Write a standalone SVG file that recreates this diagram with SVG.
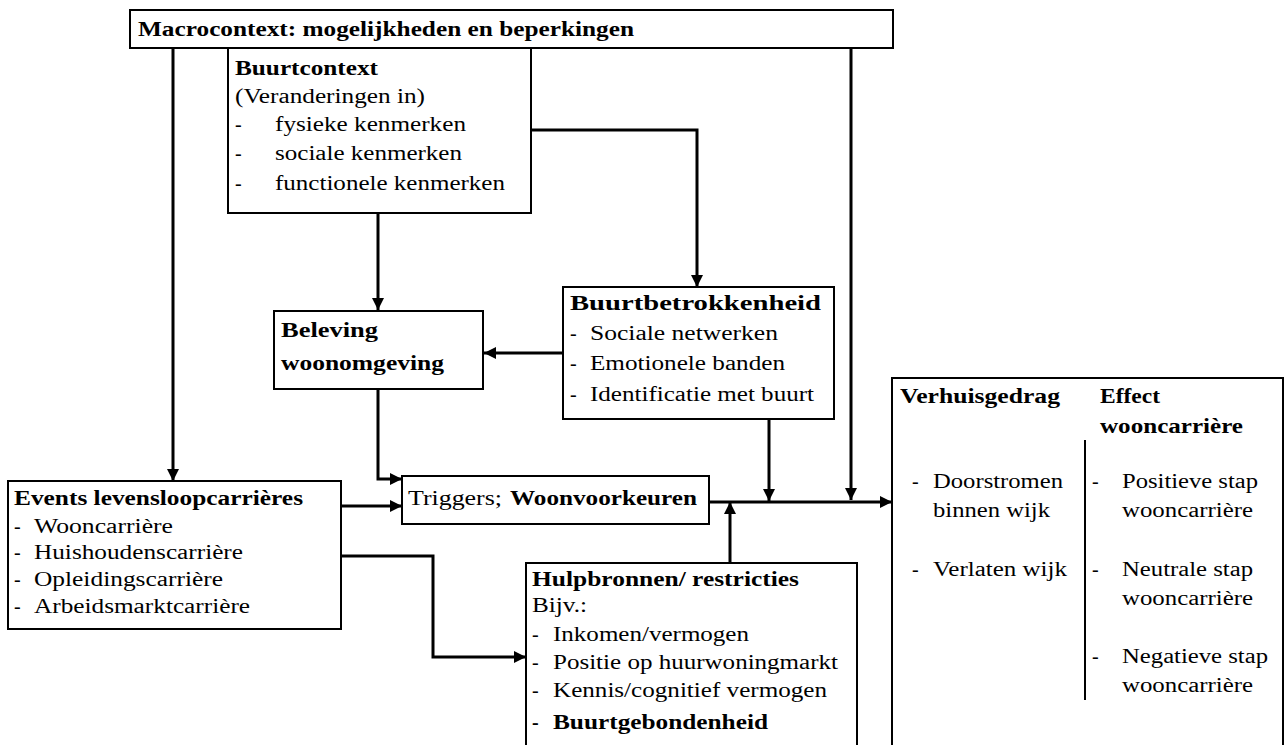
<svg xmlns="http://www.w3.org/2000/svg" width="1285" height="745" viewBox="0 0 1285 745">
<defs>
<style>
.box{fill:#fff;stroke:#000;stroke-width:2}
.c{fill:none;stroke:#000;stroke-width:3}
text{font-family:"Liberation Serif","Times New Roman",serif;font-size:20px;fill:#000}
.b{font-weight:bold}
</style>
<marker id="ah" markerUnits="userSpaceOnUse" markerWidth="14" markerHeight="12" refX="12" refY="6" orient="auto">
<path d="M0,0 L12,6 L0,12 z" fill="#000"/>
</marker>
</defs>
<rect width="1285" height="745" fill="#fff"/>

<g id="connectors">
<path class="c" d="M173,48 V481" marker-end="url(#ah)"/>
<path class="c" d="M851,48 V500" marker-end="url(#ah)"/>
<path class="c" d="M531,130 H697 V287" marker-end="url(#ah)"/>
<path class="c" d="M378,213 V310" marker-end="url(#ah)"/>
<path class="c" d="M563,353 H484" marker-end="url(#ah)"/>
<path class="c" d="M378,389 V479 H402" marker-end="url(#ah)"/>
<path class="c" d="M341,506 H402" marker-end="url(#ah)"/>
<path class="c" d="M341,556 H433 V657 H526" marker-end="url(#ah)"/>
<path class="c" d="M730,563 V502" marker-end="url(#ah)"/>
<path class="c" d="M769,419 V501" marker-end="url(#ah)"/>
<path class="c" d="M709,502 H892" marker-end="url(#ah)"/>
</g>

<g id="macrocontext">
<rect class="box" x="130" y="10" width="763" height="38"/>
<text class="b" x="138" y="36" textLength="496" lengthAdjust="spacingAndGlyphs">Macrocontext: mogelijkheden en beperkingen</text>
</g>

<g id="buurtcontext">
<rect class="box" x="228" y="48" width="303" height="165"/>
<text class="b" x="235" y="75" textLength="143" lengthAdjust="spacingAndGlyphs">Buurtcontext</text>
<text x="235" y="103" textLength="190" lengthAdjust="spacingAndGlyphs">(Veranderingen in)</text>
<text x="235" y="131">-</text>
<text x="275" y="131" textLength="191" lengthAdjust="spacingAndGlyphs">fysieke kenmerken</text>
<text x="235" y="160">-</text>
<text x="275" y="160" textLength="187" lengthAdjust="spacingAndGlyphs">sociale kenmerken</text>
<text x="235" y="190">-</text>
<text x="275" y="190" textLength="230" lengthAdjust="spacingAndGlyphs">functionele kenmerken</text>
</g>

<g id="beleving">
<rect class="box" x="274" y="311" width="209" height="78"/>
<text class="b" x="281" y="337" textLength="97" lengthAdjust="spacingAndGlyphs">Beleving</text>
<text class="b" x="281" y="370" textLength="163" lengthAdjust="spacingAndGlyphs">woonomgeving</text>
</g>

<g id="buurtbetrokkenheid">
<rect class="box" x="563" y="287" width="271" height="132"/>
<text class="b" x="570" y="310" textLength="251" lengthAdjust="spacingAndGlyphs">Buurtbetrokkenheid</text>
<text x="570" y="340">-</text>
<text x="590" y="340" textLength="188" lengthAdjust="spacingAndGlyphs">Sociale netwerken</text>
<text x="570" y="370">-</text>
<text x="590" y="370" textLength="195" lengthAdjust="spacingAndGlyphs">Emotionele banden</text>
<text x="570" y="401">-</text>
<text x="590" y="401" textLength="224" lengthAdjust="spacingAndGlyphs">Identificatie met buurt</text>
</g>

<g id="triggers">
<rect class="box" x="402" y="476" width="307" height="48"/>
<text x="408" y="505" textLength="94" lengthAdjust="spacingAndGlyphs">Triggers;</text>
<text class="b" x="510" y="505" textLength="187" lengthAdjust="spacingAndGlyphs">Woonvoorkeuren</text>
</g>

<g id="events">
<rect class="box" x="8" y="481" width="333" height="148"/>
<text class="b" x="14" y="505" textLength="289" lengthAdjust="spacingAndGlyphs">Events levensloopcarrières</text>
<text x="14" y="533">-</text>
<text x="34" y="533" textLength="139" lengthAdjust="spacingAndGlyphs">Wooncarrière</text>
<text x="14" y="559">-</text>
<text x="34" y="559" textLength="209" lengthAdjust="spacingAndGlyphs">Huishoudenscarrière</text>
<text x="14" y="586">-</text>
<text x="34" y="586" textLength="189" lengthAdjust="spacingAndGlyphs">Opleidingscarrière</text>
<text x="14" y="613">-</text>
<text x="34" y="613" textLength="216" lengthAdjust="spacingAndGlyphs">Arbeidsmarktcarrière</text>
</g>

<g id="hulpbronnen">
<rect class="box" x="526" y="563" width="331" height="190"/>
<text class="b" x="532" y="586" textLength="267" lengthAdjust="spacingAndGlyphs">Hulpbronnen/ restricties</text>
<text x="532" y="612" textLength="55" lengthAdjust="spacingAndGlyphs">Bijv.:</text>
<text x="532" y="641">-</text>
<text x="553" y="641" textLength="196" lengthAdjust="spacingAndGlyphs">Inkomen/vermogen</text>
<text x="532" y="669">-</text>
<text x="553" y="669" textLength="285" lengthAdjust="spacingAndGlyphs">Positie op huurwoningmarkt</text>
<text x="532" y="697">-</text>
<text x="553" y="697" textLength="274" lengthAdjust="spacingAndGlyphs">Kennis/cognitief vermogen</text>
<text class="b" x="532" y="729">-</text>
<text class="b" x="553" y="729" textLength="215" lengthAdjust="spacingAndGlyphs">Buurtgebondenheid</text>
</g>

<g id="verhuisgedrag">
<rect class="box" x="892" y="378" width="391" height="375"/>
<line x1="1085" y1="440" x2="1085" y2="700" stroke="#000" stroke-width="2"/>
<text class="b" x="900" y="403" textLength="160" lengthAdjust="spacingAndGlyphs">Verhuisgedrag</text>
<text class="b" x="1100" y="403" textLength="60" lengthAdjust="spacingAndGlyphs">Effect</text>
<text class="b" x="1100" y="433" textLength="143" lengthAdjust="spacingAndGlyphs">wooncarrière</text>
<text x="912" y="488">-</text>
<text x="933" y="488" textLength="130" lengthAdjust="spacingAndGlyphs">Doorstromen</text>
<text x="933" y="517" textLength="117" lengthAdjust="spacingAndGlyphs">binnen wijk</text>
<text x="912" y="576">-</text>
<text x="933" y="576" textLength="134" lengthAdjust="spacingAndGlyphs">Verlaten wijk</text>
<text x="1092" y="488">-</text>
<text x="1122" y="488" textLength="136" lengthAdjust="spacingAndGlyphs">Positieve stap</text>
<text x="1122" y="517" textLength="131" lengthAdjust="spacingAndGlyphs">wooncarrière</text>
<text x="1092" y="576">-</text>
<text x="1122" y="576" textLength="131" lengthAdjust="spacingAndGlyphs">Neutrale stap</text>
<text x="1122" y="605" textLength="131" lengthAdjust="spacingAndGlyphs">wooncarrière</text>
<text x="1092" y="663">-</text>
<text x="1122" y="663" textLength="146" lengthAdjust="spacingAndGlyphs">Negatieve stap</text>
<text x="1122" y="692" textLength="131" lengthAdjust="spacingAndGlyphs">wooncarrière</text>
</g>
</svg>
